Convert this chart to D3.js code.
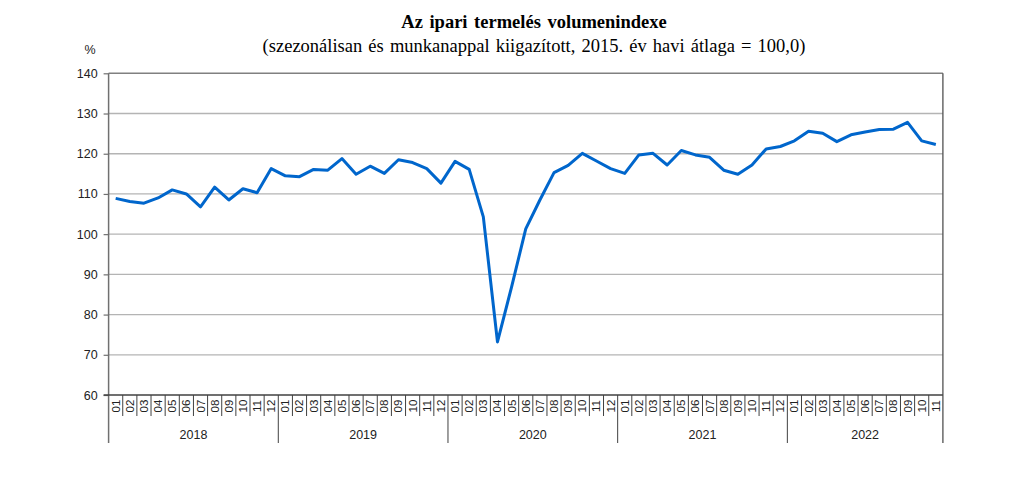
<!DOCTYPE html>
<html><head><meta charset="utf-8">
<script src="https://cdn.jsdelivr.net/npm/d3@7"></script>
<style>body{margin:0;background:#fff}svg{display:block}</style>
</head><body>
<svg id="c" width="1022" height="492"></svg>
<script>
const years = ["2018","2019","2020","2021","2022"];
const monthLabels = ["01","02","03","04","05","06","07","08","09","10","11","12"];
const values = [
 108.9,108.1,107.7,109.0,111.0,110.0,106.8,111.7,108.5,111.3,110.3,116.3,
 114.5,114.3,116.1,115.9,118.8,114.9,116.9,115.1,118.5,117.8,116.3,112.7,
 118.1,116.1,104.3,73.2,86.9,101.3,108.5,115.3,117.1,120.1,118.2,116.3,
 115.1,119.7,120.1,117.2,120.8,119.7,119.1,115.9,114.9,117.2,121.2,121.8,
 123.2,125.6,125.1,123.0,124.7,125.4,126.0,126.1,127.8,123.2,122.3
];
const yTicks = [60,70,80,90,100,110,120,130,140];
const title = "Az ipari termelés volumenindexe";
const subtitle = "(szezonálisan és munkanappal kiigazított, 2015. év havi átlaga = 100,0)";

const periods = values.map((v,i)=>({key:i, year:years[Math.floor(i/12)], month:monthLabels[i%12], v}));

const L=108.6, R=942.9, T=73.3, B=395;
const svg=d3.select("#c");
const x=d3.scaleBand().domain(periods.map(d=>d.key)).range([L,R]).padding(0);
const y=d3.scaleLinear().domain([60,140]).range([B,T]);

// gridlines
svg.append("g").selectAll("line").data(yTicks.filter(t=>t>60)).join("line")
 .attr("x1",L).attr("x2",R).attr("y1",d=>y(d)).attr("y2",d=>y(d))
 .attr("stroke",d=>d===140?"#808080":"#b4b4b4").attr("stroke-width",d=>d===140?1.5:1.3);

// y axis
const ya=svg.append("g").attr("transform",`translate(${L},0)`)
 .call(d3.axisLeft(y).tickValues(yTicks).tickSize(5).tickPadding(6).tickFormat(d3.format("d")));
ya.select(".domain").attr("stroke","#707070").attr("stroke-width",1.5).attr("d",`M0,${T}V443`);
ya.selectAll(".tick line").attr("stroke","#707070").attr("stroke-width",1.2);
ya.selectAll("text").attr("font-family","Liberation Sans, Arial, sans-serif").attr("font-size",12.5).attr("fill","#222");

// right border
svg.append("line").attr("x1",R).attr("x2",R).attr("y1",T).attr("y2",443).attr("stroke","#505050").attr("stroke-width",1.3);
// x baseline
svg.append("line").attr("x1",L-5).attr("x2",R).attr("y1",B).attr("y2",B).attr("stroke","#404040").attr("stroke-width",1.3);

// month separators
svg.append("g").selectAll("line").data(periods.slice(1)).join("line")
 .attr("x1",d=>x(d.key)).attr("x2",d=>x(d.key))
 .attr("y1",B).attr("y2",d=>d.month==="01"?443:416)
 .attr("stroke","#404040").attr("stroke-width",1);

// month labels
svg.append("g").selectAll("text").data(periods).join("text")
 .attr("transform",d=>`translate(${x(d.key)+x.bandwidth()/2+4},406) rotate(-90)`)
 .attr("text-anchor","middle").attr("font-family","Liberation Sans, Arial, sans-serif")
 .attr("font-size",11.5).attr("fill","#222").text(d=>d.month);

// year labels
const yearGroups=d3.groups(periods,d=>d.year);
svg.append("g").selectAll("text").data(yearGroups).join("text")
 .attr("x",([k,arr])=>(x(arr[0].key)+x(arr[arr.length-1].key)+x.bandwidth())/2)
 .attr("y",439).attr("text-anchor","middle")
 .attr("font-family","Liberation Sans, Arial, sans-serif").attr("font-size",12.5).attr("fill","#222")
 .text(([k])=>k);

// line
svg.append("path").datum(periods)
 .attr("d",d3.line().x(d=>x(d.key)+x.bandwidth()/2).y(d=>y(d.v)))
 .attr("fill","none").attr("stroke","#0066cc").attr("stroke-width",3).attr("stroke-linejoin","round");

// titles
svg.append("text").attr("x",534).attr("y",28).attr("text-anchor","middle")
 .attr("font-family","Liberation Serif, Times New Roman, serif").attr("font-weight","bold").attr("font-size",18.5).attr("word-spacing",2).attr("fill","#000").text(title);
svg.append("text").attr("x",534).attr("y",51.5).attr("text-anchor","middle")
 .attr("font-family","Liberation Serif, Times New Roman, serif").attr("font-size",18.5).attr("word-spacing",1.5).attr("fill","#000").text(subtitle);
svg.append("text").attr("x",90).attr("y",54).attr("text-anchor","middle")
 .attr("font-family","Liberation Sans, Arial, sans-serif").attr("font-size",12.5).attr("fill","#222").text("%");
</script>
</body></html>
